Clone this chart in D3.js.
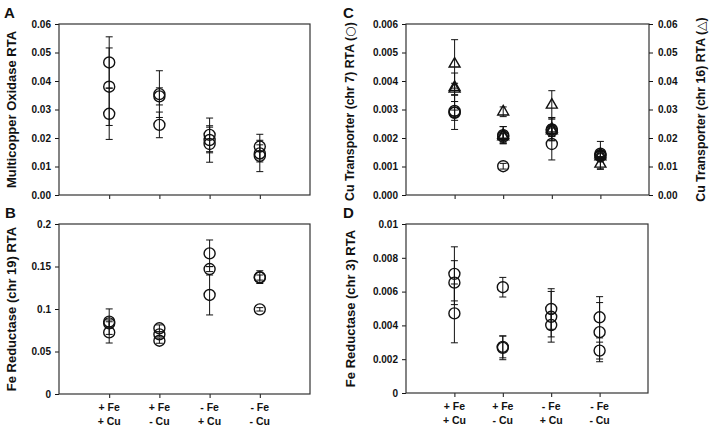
<!DOCTYPE html>
<html>
<head>
<meta charset="utf-8">
<script src="https://cdn.jsdelivr.net/npm/d3@7"></script>
<style>
  body { margin: 0; background: #fff; }
  svg text { font-family: "Liberation Sans", Arial, sans-serif; font-weight: bold; fill: #111; }
</style>
</head>
<body>
<svg id="fig" width="709" height="428"></svg>
<script>
// x categories (two-line labels)
const catLine1 = ["+ Fe", "+ Fe", "- Fe", "- Fe"];
const catLine2 = ["+ Cu", "- Cu", "+ Cu", "- Cu"];

// A: multicopper oxidase, 3 replicates per condition
const mcoMean = [[0.0465, 0.0380, 0.0285], [0.0354, 0.0346, 0.0246], [0.0211, 0.0193, 0.0179], [0.0170, 0.0146, 0.0137]];
const mcoErr  = [[0.0090, 0.0136, 0.0090], [0.0082, 0.0030, 0.0045], [0.0059, 0.0045, 0.0064], [0.0043, 0.0030, 0.0055]];

// B: Fe reductase chr 19
const fre19Mean = [[0.0851, 0.0831, 0.0725], [0.0773, 0.0702, 0.0627], [0.1655, 0.1470, 0.1165], [0.1375, 0.1370, 0.0996]];
const fre19Err  = [[0.0150, 0.0040, 0.0125], [0.0040, 0.0030, 0.0030], [0.0157, 0.0030, 0.0235], [0.0075, 0.0030, 0.0020]];

// C: Cu transporter chr 7 (circles, left axis)
const cu7Mean = [[0.00290, 0.00295, 0.00288], [0.00210, 0.00205, 0.00101], [0.00230, 0.00225, 0.00179], [0.00140, 0.00136, 0.00145]];
const cu7Err  = [[0.00060, 0.00033, 0.00010], [0.00030, 0.00020, 0.00010], [0.00040, 0.00020, 0.00056], [0.00048, 0.00020, 0.00010]];
// C: Cu transporter chr 16 (triangles, right axis)
const cu16Mean = [[0.0460, 0.0378, 0.0372], [0.0292, 0.0210, 0.0205], [0.0316, 0.0232, 0.0226], [0.0109, 0.0142, 0.0135]];
const cu16Err  = [[0.0085, 0.0050, 0.0020], [0.0017, 0.0030, 0.0010], [0.0050, 0.0040, 0.0020], [0.0019, 0.0015, 0.0010]];

// D: Fe reductase chr 3
const fre3Mean = [[0.00705, 0.00653, 0.00471], [0.00626, 0.00273, 0.00267], [0.00497, 0.00451, 0.00402], [0.00448, 0.00360, 0.00251]];
const fre3Err  = [[0.00160, 0.00130, 0.00174], [0.00058, 0.00065, 0.00070], [0.00120, 0.00150, 0.00070], [0.00122, 0.00175, 0.00050]];

const svg = d3.select("#fig");
const ink = "#111";

function flatten(means, errs) {
    let pts = [];
    means.forEach((row, c) => row.forEach((v, k) => pts.push({ cat: c + 1, v: v, e: errs[c][k] })));
    return pts;
}

function drawBars(g, x, y, pts) {
    pts.forEach(p => {
        const cx = x(p.cat);
        g.append("line")
            .attr("x1", cx).attr("x2", cx)
            .attr("y1", y(p.v + p.e)).attr("y2", y(p.v - p.e))
            .attr("stroke", ink).attr("stroke-width", 1);
        [p.v + p.e, p.v - p.e].forEach(val => {
            g.append("line")
                .attr("x1", cx - 3.5).attr("x2", cx + 3.5)
                .attr("y1", y(val)).attr("y2", y(val))
                .attr("stroke", ink).attr("stroke-width", 1);
        });
    });
}

function drawCircles(g, x, y, pts) {
    g.selectAll(null).data(pts).enter().append("circle")
        .attr("cx", d => x(d.cat))
        .attr("cy", d => y(d.v))
        .attr("r", 5.5)
        .attr("fill", "none")
        .attr("stroke", ink)
        .attr("stroke-width", 1.4);
}

function drawTriangles(g, x, y, pts) {
    const sym = d3.symbol(d3.symbolTriangle, 52);
    g.selectAll(null).data(pts).enter().append("path")
        .attr("d", sym)
        .attr("transform", d => `translate(${x(d.cat)},${y(d.v)})`)
        .attr("fill", "none")
        .attr("stroke", ink)
        .attr("stroke-width", 1.4);
}

function styleAxis(ax) {
    ax.select(".domain").remove();
    ax.selectAll(".tick line").attr("stroke", ink).attr("stroke-width", 1);
    ax.selectAll(".tick text").attr("font-size", "10px").attr("fill", ink);
}

// rotated axis title, optional marker glyph in a font that has it
function yTitle(g, cx, cy, label, glyph, size) {
    const t = g.append("text")
        .attr("transform", `translate(${cx},${cy}) rotate(-90)`)
        .attr("text-anchor", "middle").attr("dominant-baseline", "central")
        .attr("font-size", (size || 13) + "px")
        .text(label);
    if (glyph) {
        t.append("tspan").text(" (");
        t.append("tspan").style("font-family", "'DejaVu Sans'").style("font-weight", "normal").text(glyph);
        t.append("tspan").text(")");
    }
}

function panel(cfg) {
    const x = d3.scaleLinear().domain([0, 5]).range([cfg.left, cfg.right]);
    const y = d3.scaleLinear().domain([0, cfg.ymax]).range([cfg.bottom, cfg.top]);
    const g = svg.append("g");

    // y axis
    const ya = g.append("g").attr("transform", `translate(${cfg.left},0)`)
        .call(d3.axisLeft(y).tickValues(cfg.yticks).tickFormat(cfg.yfmt).tickSize(4).tickPadding(4));
    styleAxis(ya);

    // x axis ticks
    const xa = g.append("g").attr("transform", `translate(0,${cfg.bottom})`)
        .call(d3.axisBottom(x).tickValues([1, 2, 3, 4]).tickFormat("").tickSize(4));
    styleAxis(xa);

    if (cfg.xlabels) {
        [1, 2, 3, 4].forEach((c, i) => {
            const t = g.append("text")
                .attr("x", x(c)).attr("y", cfg.bottom + 17)
                .attr("text-anchor", "middle").attr("font-size", "10.5px");
            t.append("tspan").attr("x", x(c)).text(catLine1[i]);
            t.append("tspan").attr("x", x(c)).attr("dy", 13.5).text(catLine2[i]);
        });
    }

    // frame
    g.append("rect")
        .attr("x", cfg.left).attr("y", cfg.top)
        .attr("width", cfg.right - cfg.left).attr("height", cfg.bottom - cfg.top)
        .attr("fill", "none").attr("stroke", "#333").attr("stroke-width", 1.2);

    yTitle(g, cfg.titleX, (cfg.top + cfg.bottom) / 2 + (cfg.titleShift || 0), cfg.title, cfg.glyph, cfg.titleSize);

    // panel letter
    g.append("text")
        .attr("x", cfg.letterX).attr("y", cfg.top - 6)
        .attr("font-size", "15px")
        .text(cfg.letter);

    return { g, x, y };
}

// A
const pA = panel({ left: 59, right: 310, top: 24, bottom: 195, ymax: 0.06,
    yticks: d3.range(0, 0.0601, 0.01), yfmt: d3.format(".2f"),
    title: "Multicopper Oxidase RTA", titleX: 11, letter: "A", letterX: 4 });
const ptsA = flatten(mcoMean, mcoErr);
drawBars(pA.g, pA.x, pA.y, ptsA);
drawCircles(pA.g, pA.x, pA.y, ptsA);

// B
const pB = panel({ left: 59, right: 310, top: 224, bottom: 394, ymax: 0.2,
    yticks: [0, 0.05, 0.1, 0.15, 0.2], yfmt: d => d3.format("~g")(d),
    title: "Fe Reductase (chr 19) RTA", titleX: 11, letter: "B", letterX: 5, xlabels: true });
const ptsB = flatten(fre19Mean, fre19Err);
drawBars(pB.g, pB.x, pB.y, ptsB);
drawCircles(pB.g, pB.x, pB.y, ptsB);

// C
const pC = panel({ left: 406, right: 649, top: 24, bottom: 195, ymax: 0.006,
    yticks: d3.range(0, 0.00601, 0.001), yfmt: d3.format(".3f"),
    title: "Cu Transporter (chr 7) RTA", glyph: "\u25CB", titleX: 350, titleSize: 12.3, titleShift: 2,
    letter: "C", letterX: 343 });
const yC2 = d3.scaleLinear().domain([0, 0.06]).range([195, 24]);
const yaC2 = pC.g.append("g").attr("transform", "translate(649,0)")
    .call(d3.axisRight(yC2).tickValues(d3.range(0, 0.0601, 0.01)).tickFormat(d3.format(".2f")).tickSize(4).tickPadding(5));
styleAxis(yaC2);
yTitle(pC.g, 701, (24 + 195) / 2, "Cu Transporter (chr 16) RTA", "\u25B3", 12.3);
const ptsC7 = flatten(cu7Mean, cu7Err);
const ptsC16 = flatten(cu16Mean, cu16Err);
drawBars(pC.g, pC.x, yC2, ptsC16);
drawBars(pC.g, pC.x, pC.y, ptsC7);
drawTriangles(pC.g, pC.x, yC2, ptsC16);
drawCircles(pC.g, pC.x, pC.y, ptsC7);

// D
const pD = panel({ left: 406, right: 648, top: 224, bottom: 393, ymax: 0.01,
    yticks: d3.range(0, 0.01001, 0.002), yfmt: d => d3.format("~g")(+d.toFixed(4)),
    title: "Fe Reductase (chr 3) RTA", titleX: 350, letter: "D", letterX: 343, xlabels: true });
const ptsD = flatten(fre3Mean, fre3Err);
drawBars(pD.g, pD.x, pD.y, ptsD);
drawCircles(pD.g, pD.x, pD.y, ptsD);
</script>
</body>
</html>
